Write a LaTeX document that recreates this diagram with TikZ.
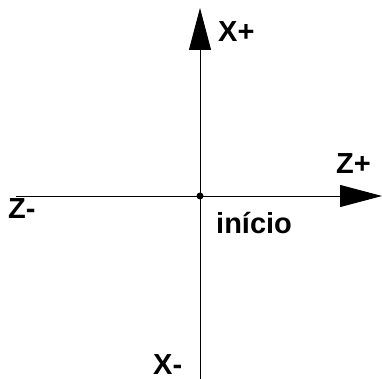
\documentclass[tikz,border=0pt]{standalone}
\usepackage{fontspec}
\setmainfont{Liberation Sans}
\usetikzlibrary{arrows.meta}
\begin{document}
\begin{tikzpicture}[x=1pt,y=-1pt,
  axis/.style={line width=0.9pt,-{Triangle[length=42pt,width=22pt]}},
  lbl/.style={font=\fontsize{29}{32}\selectfont\bfseries,inner sep=0pt,anchor=base west}]
\useasboundingbox (0,0) rectangle (382,379);
\coordinate (zm) at (16,196);
\coordinate (zp) at (382,196);
\coordinate (xm) at (200,379);
\coordinate (xp) at (200,8);
\draw[axis] (zm) -- (zp);
\draw[axis] (xm) -- (xp);
\node[circle,fill=black,inner sep=0pt,minimum size=7pt] (o) at (200,196) {};
\node[lbl] (lxp) at (218,42) {X+};
\node[lbl] (lzp) at (336,174) {Z+};
\node[lbl] (lzm) at (8,218) {Z-};
\node[lbl] (lini) at (216,233) {início};
\node[lbl] (lxm) at (153,374) {X-};
\end{tikzpicture}
\end{document}
